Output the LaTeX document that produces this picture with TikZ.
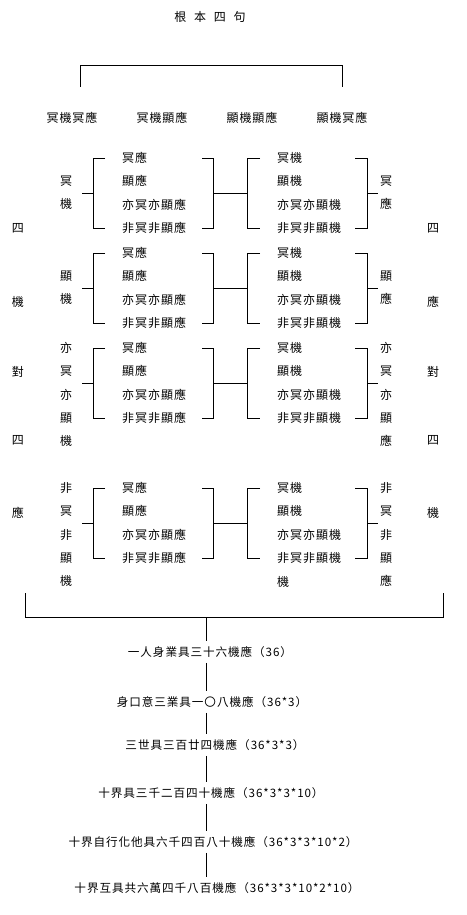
\documentclass[tikz,border=0pt]{standalone}
\usepackage{fontspec}
\newfontfamily\cjk[LetterSpace=8]{Noto Sans CJK TC}
\newfontfamily\cjkwide[LetterSpace=65]{Noto Sans CJK TC}
\newfontfamily\cjkmid[LetterSpace=8]{Noto Sans CJK TC}
\begin{document}
\begin{tikzpicture}[x=1pt,y=-1pt,
  t/.style={inner sep=0pt, font=\cjk\fontsize{12}{14}\selectfont},
  it/.style={t, anchor=west},
  bt/.style={inner sep=0pt, font=\cjkmid\fontsize{11.6}{14}\selectfont},
  ln/.style={line width=0.8pt}]
\useasboundingbox (0,0) rectangle (466,915);

% title
\node[inner sep=0pt, font=\cjkwide\fontsize{12}{14}\selectfont] (title) at (210,17) {根本四句};

% top bracket
\node[t] (q1) at (72,118) {冥機冥應};
\node[t] (q2) at (162,118) {冥機顯應};
\node[t] (q3) at (252,118) {顯機顯應};
\node[t] (q4) at (342,118) {顯機冥應};
\coordinate (tbl) at (80,87);
\coordinate (tbr) at (342,87);
\draw[ln] (tbl) -- (80,65) -- (342,65) -- (tbr);

% blocks
\foreach \b/\y in {1/158,2/253,3/348,4/488}{
  \foreach \s [count=\i from 0] in {冥應,顯應,亦冥亦顯應,非冥非顯應}
    \node[it] (L\b-\i) at (122,\y+23.3*\i) {\s};
  \foreach \s [count=\i from 0] in {冥機,顯機,亦冥亦顯機,非冥非顯機}
    \node[it] (R\b-\i) at (277,\y+23.3*\i) {\s};
  \coordinate (la\b) at (93,\y+35);
  \coordinate (ra\b) at (213,\y+35);
  \coordinate (lb\b) at (247,\y+35);
  \coordinate (rb\b) at (367,\y+35);
  \draw[ln] (105,\y) -- (93,\y) -- (93,\y+70) -- (105,\y+70);
  \draw[ln] (82,\y+35) -- (la\b);
  \draw[ln] (202,\y) -- (213,\y) -- (213,\y+70) -- (202,\y+70);
  \draw[ln] (ra\b) -- (lb\b);
  \draw[ln] (260,\y) -- (247,\y) -- (247,\y+70) -- (260,\y+70);
  \draw[ln] (355,\y) -- (367,\y) -- (367,\y+70) -- (355,\y+70);
  \draw[ln] (rb\b) -- (378,\y+35);
}

% side labels block 1, 2
\node[t] (s1a) at (66,181) {冥};
\node[t] (s1b) at (66,204) {機};
\node[t] (r1a) at (386,181) {冥};
\node[t] (r1b) at (386,204) {應};
\node[t] (s2a) at (66,276) {顯};
\node[t] (s2b) at (66,299) {機};
\node[t] (r2a) at (386,276) {顯};
\node[t] (r2b) at (386,299) {應};
% side labels block 3, 4
\foreach \s [count=\i from 0] in {亦,冥,亦,顯,機}
  \node[t] (s3-\i) at (66,348+23.3*\i) {\s};
\foreach \s [count=\i from 0] in {亦,冥,亦,顯,應}
  \node[t] (r3-\i) at (386,348+23.3*\i) {\s};
\foreach \s [count=\i from 0] in {非,冥,非,顯,機}
  \node[t] (s4-\i) at (66,488+23.3*\i) {\s};
\foreach \s [count=\i from 0] in {非,冥,非,顯,應}
  \node[t] (r4-\i) at (386,488+23.3*\i) {\s};

% outer labels
\node[t] (ol1) at (18,228) {四};
\node[t] (ol2) at (18,302) {機};
\node[t] (ol3) at (18,372) {對};
\node[t] (ol4) at (18,440) {四};
\node[t] (ol5) at (18,513) {應};
\node[t] (or1) at (433,228) {四};
\node[t] (or2) at (433,302) {應};
\node[t] (or3) at (433,372) {對};
\node[t] (or4) at (433,440) {四};
\node[t] (or5) at (433,513) {機};

% stray char
\node[t] (stray) at (283,582) {機};

% bottom bracket
\coordinate (bbl) at (25,593);
\coordinate (bbr) at (443,593);
\coordinate (spine) at (206,617);
\draw[ln] (bbl) -- (25,617) -- (443,617) -- (bbr);

% bottom chain
\node[bt] (t1) at (210,652) {一人身業具三十六機應（36）};
\node[bt] (t2) at (212,702) {身口意三業具一〇八機應（36*3）};
\node[bt] (t3) at (215,745) {三世具三百廿四機應（36*3*3）};
\node[bt] (t4) at (211,793) {十界具三千二百四十機應（36*3*3*10）};
\node[bt] (t5) at (213,842) {十界自行化他具六千四百八十機應（36*3*3*10*2）};
\node[bt] (t6) at (217,888) {十界互具共六萬四千八百機應（36*3*3*10*2*10）};

\draw[ln] (spine) -- ([yshift=5pt]spine |- t1.north);
\draw[ln] ([yshift=-5pt]spine |- t1.south) -- ([yshift=5pt]spine |- t2.north);
\draw[ln] ([yshift=-5pt]spine |- t2.south) -- ([yshift=5pt]spine |- t3.north);
\draw[ln] ([yshift=-5pt]spine |- t3.south) -- ([yshift=5pt]spine |- t4.north);
\draw[ln] ([yshift=-5pt]spine |- t4.south) -- ([yshift=5pt]spine |- t5.north);
\draw[ln] ([yshift=-5pt]spine |- t5.south) -- ([yshift=5pt]spine |- t6.north);
\end{tikzpicture}
\end{document}
